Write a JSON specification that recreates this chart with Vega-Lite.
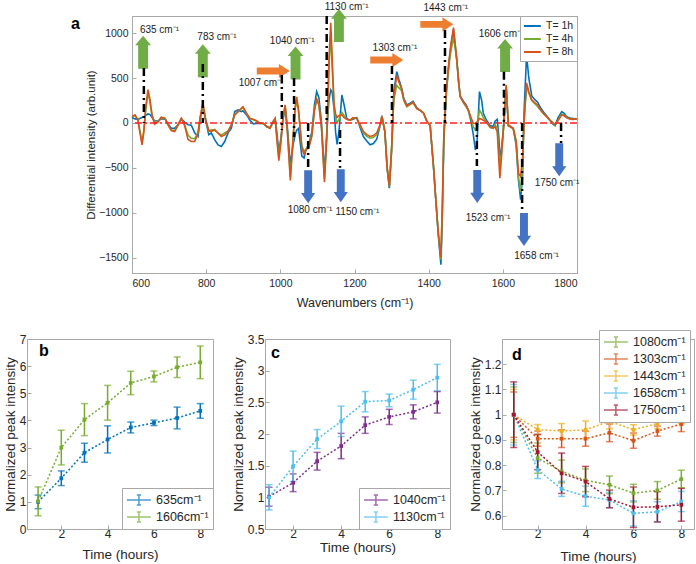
{
"$schema": "https://vega.github.io/schema/vega-lite/v6.json",
"padding": {"left": 2, "top": 1, "right": 0, "bottom": 0},
"spacing": 19,
"resolve": {"scale": {"color": "independent", "fill": "independent", "shape": "independent"}, "legend": {"color": "independent"}},
"config": {
  "font": "Liberation Sans",
  "view": {"stroke": "#a8a8a8"},
  "axis": {"grid": false, "domainColor": "#a8a8a8", "tickColor": "#a8a8a8", "labelColor": "#262626", "titleColor": "#262626", "titleFontWeight": "normal", "tickSize": -4, "labelPadding": 5},
  "legend": {"titleFontWeight": "normal"}
},
"datasets": {
  "spectra": [
{"wn":600,"T= 1h":60,"T= 4h":70,"T= 8h":70},
{"wn":608,"T= 1h":45,"T= 4h":85,"T= 8h":90},
{"wn":616,"T= 1h":40,"T= 4h":40,"T= 8h":30},
{"wn":621,"T= 1h":50,"T= 4h":-80,"T= 8h":-100},
{"wn":627,"T= 1h":60,"T= 4h":-210,"T= 8h":-245},
{"wn":632,"T= 1h":70,"T= 4h":-80,"T= 8h":-100},
{"wn":637,"T= 1h":85,"T= 4h":150,"T= 8h":170},
{"wn":643,"T= 1h":100,"T= 4h":330,"T= 8h":370},
{"wn":648,"T= 1h":95,"T= 4h":250,"T= 8h":270},
{"wn":654,"T= 1h":60,"T= 4h":80,"T= 8h":90},
{"wn":661,"T= 1h":25,"T= 4h":-5,"T= 8h":-15},
{"wn":670,"T= 1h":20,"T= 4h":15,"T= 8h":10},
{"wn":679,"T= 1h":45,"T= 4h":60,"T= 8h":65},
{"wn":689,"T= 1h":45,"T= 4h":50,"T= 8h":50},
{"wn":697,"T= 1h":-10,"T= 4h":-20,"T= 8h":-22},
{"wn":706,"T= 1h":-60,"T= 4h":-80,"T= 8h":-85},
{"wn":715,"T= 1h":-60,"T= 4h":-90,"T= 8h":-96},
{"wn":724,"T= 1h":-20,"T= 4h":-25,"T= 8h":-25},
{"wn":733,"T= 1h":45,"T= 4h":50,"T= 8h":50},
{"wn":742,"T= 1h":10,"T= 4h":-20,"T= 8h":-30},
{"wn":751,"T= 1h":-20,"T= 4h":-135,"T= 8h":-185},
{"wn":760,"T= 1h":-25,"T= 4h":-170,"T= 8h":-207},
{"wn":769,"T= 1h":-110,"T= 4h":-175,"T= 8h":-207},
{"wn":778,"T= 1h":-150,"T= 4h":-110,"T= 8h":-115},
{"wn":784,"T= 1h":40,"T= 4h":60,"T= 8h":70},
{"wn":791,"T= 1h":185,"T= 4h":200,"T= 8h":226},
{"wn":799,"T= 1h":20,"T= 4h":30,"T= 8h":30},
{"wn":807,"T= 1h":-130,"T= 4h":-95,"T= 8h":-85},
{"wn":814,"T= 1h":-110,"T= 4h":-75,"T= 8h":-96},
{"wn":823,"T= 1h":-185,"T= 4h":-85,"T= 8h":-74},
{"wn":832,"T= 1h":-244,"T= 4h":-110,"T= 8h":-115},
{"wn":841,"T= 1h":-263,"T= 4h":-135,"T= 8h":-152},
{"wn":850,"T= 1h":-207,"T= 4h":-110,"T= 8h":-133},
{"wn":859,"T= 1h":-111,"T= 4h":-90,"T= 8h":-96},
{"wn":868,"T= 1h":-59,"T= 4h":-25,"T= 8h":-22},
{"wn":877,"T= 1h":126,"T= 4h":95,"T= 8h":90},
{"wn":886,"T= 1h":144,"T= 4h":125,"T= 8h":126},
{"wn":895,"T= 1h":126,"T= 4h":160,"T= 8h":163},
{"wn":899,"T= 1h":135,"T= 4h":175,"T= 8h":180},
{"wn":909,"T= 1h":90,"T= 4h":105,"T= 8h":107},
{"wn":918,"T= 1h":30,"T= 4h":50,"T= 8h":50},
{"wn":927,"T= 1h":-10,"T= 4h":35,"T= 8h":40},
{"wn":936,"T= 1h":-5,"T= 4h":20,"T= 8h":26},
{"wn":945,"T= 1h":-5,"T= 4h":-5,"T= 8h":-4},
{"wn":954,"T= 1h":-5,"T= 4h":-5,"T= 8h":-4},
{"wn":963,"T= 1h":-40,"T= 4h":-40,"T= 8h":-40},
{"wn":972,"T= 1h":-55,"T= 4h":-60,"T= 8h":-59},
{"wn":981,"T= 1h":20,"T= 4h":15,"T= 8h":15},
{"wn":986,"T= 1h":45,"T= 4h":50,"T= 8h":50},
{"wn":991,"T= 1h":-120,"T= 4h":-170,"T= 8h":-200},
{"wn":996,"T= 1h":-330,"T= 4h":-380,"T= 8h":-420},
{"wn":1002,"T= 1h":-150,"T= 4h":-180,"T= 8h":-200},
{"wn":1007,"T= 1h":30,"T= 4h":50,"T= 8h":50},
{"wn":1013,"T= 1h":170,"T= 4h":190,"T= 8h":200},
{"wn":1019,"T= 1h":-50,"T= 4h":-90,"T= 8h":-100},
{"wn":1027,"T= 1h":-470,"T= 4h":-600,"T= 8h":-640},
{"wn":1034,"T= 1h":-250,"T= 4h":-190,"T= 8h":-200},
{"wn":1040,"T= 1h":-130,"T= 4h":150,"T= 8h":180},
{"wn":1044,"T= 1h":-80,"T= 4h":250,"T= 8h":290},
{"wn":1049,"T= 1h":-60,"T= 4h":130,"T= 8h":150},
{"wn":1058,"T= 1h":-370,"T= 4h":-250,"T= 8h":-280},
{"wn":1064,"T= 1h":-390,"T= 4h":-320,"T= 8h":-350},
{"wn":1069,"T= 1h":-300,"T= 4h":-290,"T= 8h":-300},
{"wn":1077,"T= 1h":-230,"T= 4h":-260,"T= 8h":-270},
{"wn":1085,"T= 1h":-100,"T= 4h":-130,"T= 8h":-150},
{"wn":1092,"T= 1h":200,"T= 4h":150,"T= 8h":140},
{"wn":1098,"T= 1h":348,"T= 4h":270,"T= 8h":256},
{"wn":1104,"T= 1h":280,"T= 4h":210,"T= 8h":200},
{"wn":1111,"T= 1h":0,"T= 4h":-60,"T= 8h":-50},
{"wn":1119,"T= 1h":-560,"T= 4h":-620,"T= 8h":-660},
{"wn":1126,"T= 1h":-50,"T= 4h":-100,"T= 8h":-100},
{"wn":1131,"T= 1h":250,"T= 4h":600,"T= 8h":700},
{"wn":1136,"T= 1h":367,"T= 4h":1000,"T= 8h":1115},
{"wn":1140,"T= 1h":340,"T= 4h":600,"T= 8h":700},
{"wn":1145,"T= 1h":150,"T= 4h":180,"T= 8h":200},
{"wn":1149,"T= 1h":-100,"T= 4h":60,"T= 8h":100},
{"wn":1153,"T= 1h":-240,"T= 4h":0,"T= 8h":60},
{"wn":1158,"T= 1h":-100,"T= 4h":40,"T= 8h":80},
{"wn":1166,"T= 1h":311,"T= 4h":120,"T= 8h":90},
{"wn":1172,"T= 1h":200,"T= 4h":80,"T= 8h":60},
{"wn":1179,"T= 1h":50,"T= 4h":40,"T= 8h":40},
{"wn":1188,"T= 1h":30,"T= 4h":30,"T= 8h":30},
{"wn":1196,"T= 1h":40,"T= 4h":55,"T= 8h":60},
{"wn":1206,"T= 1h":60,"T= 4h":50,"T= 8h":50},
{"wn":1215,"T= 1h":-50,"T= 4h":-30,"T= 8h":-20},
{"wn":1224,"T= 1h":-152,"T= 4h":-110,"T= 8h":-96},
{"wn":1233,"T= 1h":-200,"T= 4h":-150,"T= 8h":-130},
{"wn":1242,"T= 1h":-244,"T= 4h":-170,"T= 8h":-150},
{"wn":1251,"T= 1h":-230,"T= 4h":-160,"T= 8h":-140},
{"wn":1260,"T= 1h":-180,"T= 4h":-130,"T= 8h":-110},
{"wn":1269,"T= 1h":-30,"T= 4h":-25,"T= 8h":-20},
{"wn":1274,"T= 1h":80,"T= 4h":75,"T= 8h":70},
{"wn":1282,"T= 1h":-100,"T= 4h":-100,"T= 8h":-100},
{"wn":1288,"T= 1h":-500,"T= 4h":-500,"T= 8h":-500},
{"wn":1294,"T= 1h":-726,"T= 4h":-710,"T= 8h":-700},
{"wn":1300,"T= 1h":-300,"T= 4h":-300,"T= 8h":-300},
{"wn":1306,"T= 1h":350,"T= 4h":250,"T= 8h":300},
{"wn":1314,"T= 1h":570,"T= 4h":420,"T= 8h":530},
{"wn":1320,"T= 1h":480,"T= 4h":390,"T= 8h":450},
{"wn":1327,"T= 1h":390,"T= 4h":360,"T= 8h":380},
{"wn":1333,"T= 1h":270,"T= 4h":250,"T= 8h":260},
{"wn":1341,"T= 1h":200,"T= 4h":180,"T= 8h":190},
{"wn":1350,"T= 1h":220,"T= 4h":205,"T= 8h":211},
{"wn":1358,"T= 1h":240,"T= 4h":225,"T= 8h":230},
{"wn":1368,"T= 1h":170,"T= 4h":160,"T= 8h":160},
{"wn":1377,"T= 1h":140,"T= 4h":140,"T= 8h":140},
{"wn":1386,"T= 1h":111,"T= 4h":111,"T= 8h":111},
{"wn":1395,"T= 1h":20,"T= 4h":20,"T= 8h":20},
{"wn":1404,"T= 1h":-30,"T= 4h":-30,"T= 8h":-30},
{"wn":1413,"T= 1h":-485,"T= 4h":-485,"T= 8h":-485},
{"wn":1420,"T= 1h":-900,"T= 4h":-900,"T= 8h":-900},
{"wn":1426,"T= 1h":-1250,"T= 4h":-1230,"T= 8h":-1222},
{"wn":1433,"T= 1h":-1578,"T= 4h":-1520,"T= 8h":-1500},
{"wn":1437,"T= 1h":-1000,"T= 4h":-920,"T= 8h":-900},
{"wn":1441,"T= 1h":-200,"T= 4h":-120,"T= 8h":-100},
{"wn":1448,"T= 1h":350,"T= 4h":370,"T= 8h":380},
{"wn":1455,"T= 1h":680,"T= 4h":650,"T= 8h":700},
{"wn":1460,"T= 1h":850,"T= 4h":800,"T= 8h":880},
{"wn":1467,"T= 1h":1040,"T= 4h":950,"T= 8h":1060},
{"wn":1471,"T= 1h":880,"T= 4h":850,"T= 8h":900},
{"wn":1476,"T= 1h":700,"T= 4h":680,"T= 8h":700},
{"wn":1481,"T= 1h":450,"T= 4h":440,"T= 8h":450},
{"wn":1485,"T= 1h":300,"T= 4h":290,"T= 8h":293},
{"wn":1494,"T= 1h":240,"T= 4h":220,"T= 8h":230},
{"wn":1501,"T= 1h":200,"T= 4h":180,"T= 8h":190},
{"wn":1507,"T= 1h":140,"T= 4h":140,"T= 8h":140},
{"wn":1514,"T= 1h":20,"T= 4h":50,"T= 8h":60},
{"wn":1520,"T= 1h":-120,"T= 4h":-40,"T= 8h":0},
{"wn":1526,"T= 1h":-300,"T= 4h":-80,"T= 8h":-10},
{"wn":1530,"T= 1h":-250,"T= 4h":-50,"T= 8h":10},
{"wn":1537,"T= 1h":348,"T= 4h":144,"T= 8h":50},
{"wn":1543,"T= 1h":250,"T= 4h":100,"T= 8h":40},
{"wn":1547,"T= 1h":111,"T= 4h":60,"T= 8h":30},
{"wn":1556,"T= 1h":30,"T= 4h":10,"T= 8h":10},
{"wn":1566,"T= 1h":-30,"T= 4h":-50,"T= 8h":-50},
{"wn":1574,"T= 1h":-40,"T= 4h":-55,"T= 8h":-60},
{"wn":1579,"T= 1h":20,"T= 4h":-20,"T= 8h":-40},
{"wn":1585,"T= 1h":40,"T= 4h":-60,"T= 8h":-100},
{"wn":1589,"T= 1h":-150,"T= 4h":-300,"T= 8h":-400},
{"wn":1592,"T= 1h":-374,"T= 4h":-485,"T= 8h":-615},
{"wn":1596,"T= 1h":-300,"T= 4h":-350,"T= 8h":-400},
{"wn":1601,"T= 1h":-100,"T= 4h":-100,"T= 8h":-100},
{"wn":1609,"T= 1h":400,"T= 4h":400,"T= 8h":422},
{"wn":1615,"T= 1h":-30,"T= 4h":-30,"T= 8h":-30},
{"wn":1622,"T= 1h":-40,"T= 4h":-45,"T= 8h":-50},
{"wn":1628,"T= 1h":-60,"T= 4h":-60,"T= 8h":-59},
{"wn":1636,"T= 1h":-250,"T= 4h":-220,"T= 8h":-200},
{"wn":1642,"T= 1h":-630,"T= 4h":-600,"T= 8h":-559},
{"wn":1648,"T= 1h":-855,"T= 4h":-767,"T= 8h":-596},
{"wn":1653,"T= 1h":-600,"T= 4h":-500,"T= 8h":-400},
{"wn":1657,"T= 1h":100,"T= 4h":0,"T= 8h":0},
{"wn":1664,"T= 1h":756,"T= 4h":420,"T= 8h":444},
{"wn":1670,"T= 1h":500,"T= 4h":330,"T= 8h":350},
{"wn":1678,"T= 1h":300,"T= 4h":250,"T= 8h":256},
{"wn":1687,"T= 1h":256,"T= 4h":210,"T= 8h":222},
{"wn":1694,"T= 1h":230,"T= 4h":180,"T= 8h":200},
{"wn":1700,"T= 1h":180,"T= 4h":150,"T= 8h":156},
{"wn":1708,"T= 1h":130,"T= 4h":110,"T= 8h":110},
{"wn":1718,"T= 1h":80,"T= 4h":70,"T= 8h":70},
{"wn":1727,"T= 1h":30,"T= 4h":30,"T= 8h":30},
{"wn":1735,"T= 1h":-10,"T= 4h":0,"T= 8h":0},
{"wn":1741,"T= 1h":-30,"T= 4h":-20,"T= 8h":-20},
{"wn":1749,"T= 1h":60,"T= 4h":30,"T= 8h":30},
{"wn":1759,"T= 1h":126,"T= 4h":100,"T= 8h":90},
{"wn":1765,"T= 1h":110,"T= 4h":85,"T= 8h":80},
{"wn":1772,"T= 1h":70,"T= 4h":60,"T= 8h":60},
{"wn":1781,"T= 1h":55,"T= 4h":45,"T= 8h":45},
{"wn":1789,"T= 1h":50,"T= 4h":40,"T= 8h":40},
{"wn":1797,"T= 1h":45,"T= 4h":45,"T= 8h":45},
{"wn":1800,"T= 1h":40,"T= 4h":40,"T= 8h":40}
  ],
  "peaklines": [
{"wn":632,"y1":611,"y2":0},{"wn":791,"y1":656,"y2":0},{"wn":1004,"y1":533,"y2":-78},{"wn":1037,"y1":500,"y2":-156},
{"wn":1075,"y1":0,"y2":-522},{"wn":1125,"y1":1190,"y2":0},{"wn":1161,"y1":-78,"y2":-500},{"wn":1301,"y1":633,"y2":0},
{"wn":1444,"y1":1033,"y2":0},{"wn":1530,"y1":0,"y2":-478},{"wn":1603,"y1":570,"y2":-33},{"wn":1652,"y1":0,"y2":-1000},{"wn":1757,"y1":0,"y2":-222}
  ],
  "arrows": [
{"wn":630,"v":787,"dir":"up"},{"wn":791,"v":692,"dir":"up"},{"wn":1041,"v":667,"dir":"up"},{"wn":1158,"v":1083,"dir":"up"},{"wn":1606,"v":750,"dir":"up"},
{"wn":981,"v":578,"dir":"right"},{"wn":1287,"v":700,"dir":"right"},{"wn":1422,"v":1097,"dir":"right"},
{"wn":1075,"v":-711,"dir":"down"},{"wn":1163,"v":-698,"dir":"down"},{"wn":1531,"v":-708,"dir":"down"},{"wn":1657,"v":-1185,"dir":"down"},{"wn":1752,"v":-411,"dir":"down"}
  ],
  "labels": [
{"wn":674,"v":1033,"label":"635 cm⁻¹"},{"wn":829,"v":952,"label":"783 cm⁻¹"},{"wn":948,"v":441,"label":"1007 cm⁻¹"},{"wn":1032,"v":914,"label":"1040 cm⁻¹"},
{"wn":1179,"v":1290,"label":"1130 cm⁻¹"},{"wn":1309,"v":830,"label":"1303 cm⁻¹"},{"wn":1446,"v":1274,"label":"1443 cm⁻¹"},{"wn":1595,"v":989,"label":"1606 cm⁻¹"},
{"wn":1080,"v":-974,"label":"1080 cm⁻¹"},{"wn":1208,"v":-989,"label":"1150 cm⁻¹"},{"wn":1560,"v":-1059,"label":"1523 cm⁻¹"},{"wn":1691,"v":-1485,"label":"1658 cm⁻¹"},{"wn":1746,"v":-670,"label":"1750 cm⁻¹"}
  ],
  "pb": [
{"t":1,"s":"635cm⁻¹","m":1.0,"e":0.25},{"t":2,"s":"635cm⁻¹","m":1.87,"e":0.27},{"t":3,"s":"635cm⁻¹","m":2.81,"e":0.35},{"t":4,"s":"635cm⁻¹","m":3.3,"e":0.5},
{"t":5,"s":"635cm⁻¹","m":3.74,"e":0.2},{"t":6,"s":"635cm⁻¹","m":3.91,"e":0.1},{"t":7,"s":"635cm⁻¹","m":4.09,"e":0.4},{"t":8,"s":"635cm⁻¹","m":4.35,"e":0.27},
{"t":1,"s":"1606cm⁻¹","m":1.02,"e":0.53},{"t":2,"s":"1606cm⁻¹","m":3.0,"e":0.64},{"t":3,"s":"1606cm⁻¹","m":4.03,"e":0.59},{"t":4,"s":"1606cm⁻¹","m":4.65,"e":0.64},
{"t":5,"s":"1606cm⁻¹","m":5.38,"e":0.43},{"t":6,"s":"1606cm⁻¹","m":5.62,"e":0.2},{"t":7,"s":"1606cm⁻¹","m":5.96,"e":0.38},{"t":8,"s":"1606cm⁻¹","m":6.14,"e":0.6}
  ],
  "pc": [
{"t":1,"s":"1040cm⁻¹","m":1.01,"e":0.15},{"t":2,"s":"1040cm⁻¹","m":1.23,"e":0.14},{"t":3,"s":"1040cm⁻¹","m":1.57,"e":0.14},{"t":4,"s":"1040cm⁻¹","m":1.81,"e":0.2},
{"t":5,"s":"1040cm⁻¹","m":2.14,"e":0.13},{"t":6,"s":"1040cm⁻¹","m":2.27,"e":0.12},{"t":7,"s":"1040cm⁻¹","m":2.35,"e":0.11},{"t":8,"s":"1040cm⁻¹","m":2.5,"e":0.17},
{"t":1,"s":"1130cm⁻¹","m":1.0,"e":0.2},{"t":2,"s":"1130cm⁻¹","m":1.49,"e":0.24},{"t":3,"s":"1130cm⁻¹","m":1.92,"e":0.15},{"t":4,"s":"1130cm⁻¹","m":2.2,"e":0.24},
{"t":5,"s":"1130cm⁻¹","m":2.51,"e":0.16},{"t":6,"s":"1130cm⁻¹","m":2.53,"e":0.1},{"t":7,"s":"1130cm⁻¹","m":2.7,"e":0.15},{"t":8,"s":"1130cm⁻¹","m":2.89,"e":0.21}
  ],
  "pd": [
{"t":1,"s":"1080cm⁻¹","m":1.0,"e":0.11},{"t":2,"s":"1080cm⁻¹","m":0.828,"e":0.06},{"t":3,"s":"1080cm⁻¹","m":0.775,"e":0.045},{"t":4,"s":"1080cm⁻¹","m":0.74,"e":0.045},
{"t":5,"s":"1080cm⁻¹","m":0.722,"e":0.035},{"t":6,"s":"1080cm⁻¹","m":0.689,"e":0.035},{"t":7,"s":"1080cm⁻¹","m":0.7,"e":0.035},{"t":8,"s":"1080cm⁻¹","m":0.745,"e":0.035},
{"t":1,"s":"1303cm⁻¹","m":1.0,"e":0.09},{"t":2,"s":"1303cm⁻¹","m":0.905,"e":0.03},{"t":3,"s":"1303cm⁻¹","m":0.905,"e":0.035},{"t":4,"s":"1303cm⁻¹","m":0.905,"e":0.03},
{"t":5,"s":"1303cm⁻¹","m":0.928,"e":0.035},{"t":6,"s":"1303cm⁻¹","m":0.897,"e":0.03},{"t":7,"s":"1303cm⁻¹","m":0.935,"e":0.02},{"t":8,"s":"1303cm⁻¹","m":0.963,"e":0.03},
{"t":1,"s":"1443cm⁻¹","m":1.0,"e":0.1},{"t":2,"s":"1443cm⁻¹","m":0.941,"e":0.02},{"t":3,"s":"1443cm⁻¹","m":0.935,"e":0.03},{"t":4,"s":"1443cm⁻¹","m":0.94,"e":0.035},
{"t":5,"s":"1443cm⁻¹","m":0.974,"e":0.03},{"t":6,"s":"1443cm⁻¹","m":0.94,"e":0.02},{"t":7,"s":"1443cm⁻¹","m":0.965,"e":0.02},{"t":8,"s":"1443cm⁻¹","m":1.0,"e":0.035},
{"t":1,"s":"1658cm⁻¹","m":1.0,"e":0.12},{"t":2,"s":"1658cm⁻¹","m":0.782,"e":0.035},{"t":3,"s":"1658cm⁻¹","m":0.706,"e":0.03},{"t":4,"s":"1658cm⁻¹","m":0.677,"e":0.04},
{"t":5,"s":"1658cm⁻¹","m":0.662,"e":0.03},{"t":6,"s":"1658cm⁻¹","m":0.609,"e":0.05},{"t":7,"s":"1658cm⁻¹","m":0.615,"e":0.04},{"t":8,"s":"1658cm⁻¹","m":0.656,"e":0.04},
{"t":1,"s":"1750cm⁻¹","m":1.0,"e":0.13},{"t":2,"s":"1750cm⁻¹","m":0.852,"e":0.07},{"t":3,"s":"1750cm⁻¹","m":0.768,"e":0.08},{"t":4,"s":"1750cm⁻¹","m":0.735,"e":0.06},
{"t":5,"s":"1750cm⁻¹","m":0.666,"e":0.035},{"t":6,"s":"1750cm⁻¹","m":0.633,"e":0.08},{"t":7,"s":"1750cm⁻¹","m":0.635,"e":0.06},{"t":8,"s":"1750cm⁻¹","m":0.643,"e":0.065}
  ]
},
"vconcat": [
  {
    "hconcat": [
      {"width": 105, "height": 257, "view": {"stroke": null}, "data": {"values": [{"k": ""}]}, "mark": {"type": "text"}, "encoding": {"text": {"field": "k"}}},
      {
        "width": 445, "height": 257,
        "title": {"text": "a", "anchor": "start", "frame": "group", "offset": -30, "dx": -61, "fontSize": 16, "fontWeight": "bold", "color": "black"},
        "layer": [
          {
            "data": {"name": "spectra"},
            "transform": [{"fold": ["T= 1h", "T= 4h", "T= 8h"], "as": ["series", "val"]}],
            "mark": {"type": "line", "strokeWidth": 1.6},
            "encoding": {
              "x": {"field": "wn", "type": "quantitative", "title": "Wavenumbers (cm⁻¹)", "scale": {"domain": [600, 1800], "nice": false}, "axis": {"values": [600, 800, 1000, 1200, 1400, 1600, 1800], "format": "d", "labelFontSize": 10.5, "titleFontSize": 12.5, "labelPadding": 9, "titlePadding": 8}},
              "y": {"field": "val", "type": "quantitative", "title": "Differential intensity (arb.unit)", "scale": {"domain": [-1670, 1190], "nice": false, "zero": false}, "axis": {"values": [-1500, -1000, -500, 0, 500, 1000], "format": "d", "labelFontSize": 10.5, "titleFontSize": 11.5, "labelPadding": 8, "titlePadding": 2}},
              "color": {"field": "series", "type": "nominal", "scale": {"domain": ["T= 1h", "T= 4h", "T= 8h"], "range": ["#0072BD", "#77AC30", "#D95319"]},
                "legend": {"title": null, "orient": "top-right", "offset": 0, "strokeColor": "#a8a8a8", "fillColor": "white", "padding": 3, "symbolType": "M-1,0L1.8,0", "symbolSize": 144, "symbolStrokeWidth": 2, "labelFontSize": 10.5, "labelColor": "#262626", "rowPadding": 0, "labelOffset": 9}}
            }
          },
          {
            "data": {"values": [{"z": 0}]},
            "mark": {"type": "rule", "color": "#ff2020", "strokeWidth": 1.5, "strokeDash": [7, 3, 2, 3]},
            "encoding": {"y": {"field": "z", "type": "quantitative", "title": "Differential intensity (arb.unit)"}}
          },
          {
            "data": {"name": "arrows"},
            "mark": {"type": "point", "filled": true, "opacity": 1, "size": 1089, "strokeWidth": 0},
            "encoding": {
              "x": {"field": "wn", "type": "quantitative", "title": "Wavenumbers (cm⁻¹)"},
              "y": {"field": "v", "type": "quantitative", "title": "Differential intensity (arb.unit)"},
              "fill": {"field": "dir", "type": "nominal", "legend": null, "scale": {"domain": ["up", "down", "right"], "range": ["#70AD47", "#4472C4", "#ED7D31"]}},
              "shape": {"field": "dir", "type": "nominal", "legend": null, "scale": {"domain": ["up", "down", "right"], "range": [
                "M-0.3,1L-0.3,-0.42L-0.48,-0.42L0,-1L0.48,-0.42L0.3,-0.42L0.3,1Z",
                "M-0.24,-1L-0.24,0.38L-0.43,0.38L0,1L0.43,0.38L0.24,0.38L0.24,-1Z",
                "M-1,-0.21L0.34,-0.21L0.34,-0.43L1,0L0.34,0.43L0.34,0.21L-1,0.21Z"]}}
            }
          },
          {
            "data": {"name": "peaklines"},
            "mark": {"type": "rule", "color": "black", "strokeWidth": 2.5, "strokeDash": [8, 4, 2, 4]},
            "encoding": {
              "x": {"field": "wn", "type": "quantitative", "title": "Wavenumbers (cm⁻¹)"},
              "y": {"field": "y1", "type": "quantitative", "title": "Differential intensity (arb.unit)"},
              "y2": {"field": "y2"}
            }
          },
          {
            "data": {"name": "labels"},
            "mark": {"type": "text", "fontSize": 10, "color": "#1a1a1a", "align": "center", "baseline": "middle"},
            "encoding": {
              "x": {"field": "wn", "type": "quantitative", "title": "Wavenumbers (cm⁻¹)"},
              "y": {"field": "v", "type": "quantitative", "title": "Differential intensity (arb.unit)"},
              "text": {"field": "label"}
            }
          }
        ]
      }
    ],
    "spacing": 0,
    "bounds": "flush",
    "resolve": {"scale": {"color": "independent"}, "legend": {"color": "independent"}}
  },
  {
    "hconcat": [
      {
        "width": 186, "height": 190,
        "title": {"text": "b", "anchor": "start", "frame": "group", "offset": -26, "dx": 12, "fontSize": 16, "fontWeight": "bold", "color": "black"},
        "data": {"name": "pb"},
        "encoding": {
          "x": {"field": "t", "type": "quantitative", "title": "Time (hours)", "scale": {"domain": [0.52, 8.55], "nice": false}, "axis": {"values": [2, 4, 6, 8], "labelFontSize": 12, "titleFontSize": 13.5, "labelPadding": 3, "titlePadding": 8}},
          "y": {"field": "m", "type": "quantitative", "title": "Normalized peak intensity", "scale": {"domain": [0, 7], "nice": false, "zero": false}, "axis": {"values": [0, 1, 2, 3, 4, 5, 6, 7], "labelFontSize": 12, "titleFontSize": 13.5, "titlePadding": 2}},
          "color": {"field": "s", "type": "nominal", "scale": {"domain": ["635cm⁻¹", "1606cm⁻¹"], "range": ["#0072BD", "#77AC30"]},
            "legend": {"title": null, "orient": "bottom-right", "offset": 0, "strokeColor": "#a8a8a8", "fillColor": "white", "padding": 4, "symbolType": "M-1,0L2.4,0M0.7,-0.7L0.7,0.7M0.4,-0.7L1,-0.7M0.4,0.7L1,0.7", "symbolSize": 196, "symbolStrokeWidth": 1.5, "labelFontSize": 12.5, "labelColor": "#262626", "rowPadding": 1, "labelOffset": 14}}
        },
        "layer": [
          {"mark": {"type": "line", "strokeDash": [2, 2], "strokeWidth": 1.5}},
          {"mark": {"type": "errorbar", "ticks": {"size": 7}, "thickness": 1.5}, "encoding": {"yError": {"field": "e"}}},
          {"mark": {"type": "point", "shape": "square", "filled": true, "size": 14, "opacity": 1}}
        ]
      },
      {
        "width": 185, "height": 190,
        "title": {"text": "c", "anchor": "start", "frame": "group", "offset": -28, "dx": 6, "fontSize": 16, "fontWeight": "bold", "color": "black"},
        "data": {"name": "pc"},
        "encoding": {
          "x": {"field": "t", "type": "quantitative", "title": "Time (hours)", "scale": {"domain": [0.83, 8.53], "nice": false}, "axis": {"values": [2, 4, 6, 8], "labelFontSize": 12, "titleFontSize": 13.5, "labelPadding": 3, "titlePadding": 1}},
          "y": {"field": "m", "type": "quantitative", "title": "Normalized peak intensity", "scale": {"domain": [0.5, 3.5], "nice": false, "zero": false}, "axis": {"values": [0.5, 1, 1.5, 2, 2.5, 3, 3.5], "format": "~g", "labelFontSize": 12, "titleFontSize": 13.5, "titlePadding": 2}},
          "color": {"field": "s", "type": "nominal", "scale": {"domain": ["1040cm⁻¹", "1130cm⁻¹"], "range": ["#7E2F8E", "#4DBEEE"]},
            "legend": {"title": null, "orient": "bottom-right", "offset": 0, "strokeColor": "#a8a8a8", "fillColor": "white", "padding": 4, "symbolType": "M-1,0L2.4,0M0.7,-0.7L0.7,0.7M0.4,-0.7L1,-0.7M0.4,0.7L1,0.7", "symbolSize": 196, "symbolStrokeWidth": 1.5, "labelFontSize": 12.5, "labelColor": "#262626", "rowPadding": 1, "labelOffset": 14}}
        },
        "layer": [
          {"mark": {"type": "line", "strokeDash": [2, 2], "strokeWidth": 1.5}},
          {"mark": {"type": "errorbar", "ticks": {"size": 7}, "thickness": 1.5}, "encoding": {"yError": {"field": "e"}}},
          {"mark": {"type": "point", "shape": "square", "filled": true, "size": 14, "opacity": 1}}
        ]
      },
      {
        "width": 192, "height": 190,
        "title": {"text": "d", "anchor": "start", "frame": "group", "offset": -33, "dx": 10, "fontSize": 16, "fontWeight": "bold", "color": "black"},
        "data": {"name": "pd"},
        "encoding": {
          "x": {"field": "t", "type": "quantitative", "title": "Time (hours)", "scale": {"domain": [0.51, 8.53], "nice": false}, "axis": {"values": [2, 4, 6, 8], "labelFontSize": 12, "titleFontSize": 13.5, "labelPadding": 3, "titlePadding": 10}},
          "y": {"field": "m", "type": "quantitative", "title": "Normalized peak intensity", "scale": {"domain": [0.547, 1.3], "nice": false, "zero": false}, "axis": {"values": [0.6, 0.7, 0.8, 0.9, 1, 1.1, 1.2], "format": "~g", "labelFontSize": 12, "titleFontSize": 13.5, "titlePadding": 2}},
          "color": {"field": "s", "type": "nominal", "scale": {"domain": ["1080cm⁻¹", "1303cm⁻¹", "1443cm⁻¹", "1658cm⁻¹", "1750cm⁻¹"], "range": ["#77AC30", "#D95319", "#EDB120", "#4DBEEE", "#A2142F"]},
            "legend": {"title": null, "orient": "none", "legendX": 97, "legendY": -9, "strokeColor": "#a8a8a8", "fillColor": "white", "padding": 4, "symbolType": "M-1,0L2.4,0M0.7,-0.7L0.7,0.7M0.4,-0.7L1,-0.7M0.4,0.7L1,0.7", "symbolSize": 196, "symbolStrokeWidth": 1.5, "labelFontSize": 12.5, "labelColor": "#262626", "rowPadding": 1, "labelOffset": 14}}
        },
        "layer": [
          {"mark": {"type": "line", "strokeDash": [2, 2], "strokeWidth": 1.5}},
          {"mark": {"type": "errorbar", "ticks": {"size": 7}, "thickness": 1.5}, "encoding": {"yError": {"field": "e"}}},
          {"mark": {"type": "point", "shape": "square", "filled": true, "size": 14, "opacity": 1}}
        ]
      }
    ],
    "spacing": 52,
    "bounds": "flush",
    "resolve": {"scale": {"color": "independent"}, "legend": {"color": "independent"}}
  }
]
}
